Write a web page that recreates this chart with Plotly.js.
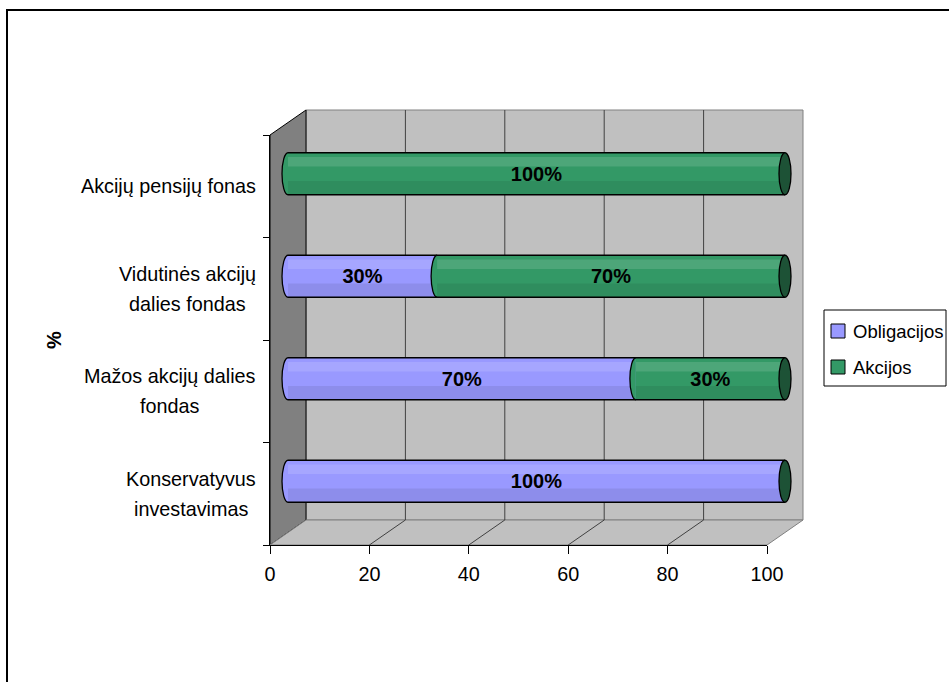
<!DOCTYPE html>
<html>
<head>
<meta charset="utf-8">
<script src="https://cdn.plot.ly/plotly-3.0.1.min.js"></script>
<style>html,body{margin:0;padding:0;background:#fff;}</style>
</head>
<body>
<div id="chart" style="width:949px;height:682px;"></div>
<script>
// ---- data ----
const categories = [
  'Konservatyvus<br>investavimas',
  'Mažos akcijų dalies<br>fondas',
  'Vidutinės akcijų<br>dalies fondas',
  'Akcijų pensijų fonas'
];
const obligacijos = [100, 70, 30, 0];
const akcijos = [0, 30, 70, 100];
const seriesNames = ['Obligacijos', 'Akcijos'];
const xTicks = [0, 20, 40, 60, 80, 100];
const axisTitle = '%';

// ---- styling / geometry ----
const W = 949, H = 682;
const FONT = 'Arial, "Liberation Sans", sans-serif';
const LABEL_SIZE = 19.8;
const seriesColors = ['#9999ff', '#339966'];
const capColor = '#1d5236';
const FRONT = {left: 270, right: 767, top: 135, bottom: 545};
const DEPTH = {dx: 36, dy: -25};          // front plane -> back wall offset (px)
const BAR_W = 0.41;                        // bar thickness in category units
const CAP_RX_PX = 6;                       // half width of the cylinder end ellipse
const PAD_PX = 12;                         // room around the bar plot so end caps are not clipped
const LABEL_RIGHT = 256;
const LINE_GAP = 30;

const px = x => x / W;
const py = y => 1 - y / H;
const xMax = xTicks[xTicks.length - 1];
const plotW = FRONT.right - FRONT.left;
const unitsPerPx = xMax / plotW;
const xPx = (v, dx) => FRONT.left + dx + v / xMax * plotW;
const nCat = categories.length;
const catIndex = categories.map((_, i) => i);
const series = [obligacijos, akcijos];

function polyPath(pts) {
  return 'M' + pts.map(p => px(p[0]) + ',' + py(p[1])).join(' L') + ' Z';
}

// ---- traces: stacked cylinders drawn at mid depth ----
const traces = series.map((vals, k) => ({
  type: 'bar',
  orientation: 'h',
  name: seriesNames[k],
  x: vals,
  y: catIndex,
  customdata: categories,
  xaxis: 'x2',
  yaxis: 'y2',
  width: BAR_W,
  marker: {color: seriesColors[k], line: {width: 0}},
  text: vals.map(v => v > 0 ? v + '%' : ''),
  textposition: 'inside',
  insidetextanchor: 'middle',
  textangle: 0,
  constraintext: 'none',
  insidetextfont: {family: FONT, size: 20, color: '#000', weight: 'bold'},
  hoverinfo: 'skip',
  cliponaxis: false,
  showlegend: false
}));

// ---- shapes ----
const shapes = [];
const backL = FRONT.left + DEPTH.dx, backR = FRONT.right + DEPTH.dx;
const backT = FRONT.top + DEPTH.dy, backB = FRONT.bottom + DEPTH.dy;

// back wall
shapes.push({type: 'path', xref: 'paper', yref: 'paper', layer: 'below',
  path: polyPath([[backL, backT], [backR, backT], [backR, backB], [backL, backB]]),
  fillcolor: '#c0c0c0', line: {color: '#808080', width: 1}});
// side wall
shapes.push({type: 'path', xref: 'paper', yref: 'paper', layer: 'below',
  path: polyPath([[FRONT.left, FRONT.top], [backL, backT], [backL, backB], [FRONT.left, FRONT.bottom]]),
  fillcolor: '#808080', line: {color: '#000', width: 1}});
// floor
shapes.push({type: 'path', xref: 'paper', yref: 'paper', layer: 'below',
  path: polyPath([[FRONT.left, FRONT.bottom], [FRONT.right, FRONT.bottom], [backR, backB], [backL, backB]]),
  fillcolor: '#c0c0c0', line: {color: '#808080', width: 1}});
// gridlines on the back wall and across the floor
xTicks.slice(1, -1).forEach(v => {
  const bx = xPx(v, DEPTH.dx), fx = xPx(v, 0);
  shapes.push({type: 'line', xref: 'paper', yref: 'paper', layer: 'below',
    x0: px(bx), x1: px(bx), y0: py(backT), y1: py(backB),
    line: {color: '#404040', width: 1}});
  shapes.push({type: 'line', xref: 'paper', yref: 'paper', layer: 'below',
    x0: px(fx), x1: px(bx), y0: py(FRONT.bottom), y1: py(backB),
    line: {color: '#404040', width: 1}});
});

// cylinder decorations (bar axes)
const rx = CAP_RX_PX * unitsPerPx;
const h = BAR_W / 2;
const K = 0.5523;
function leftHalf(s, yc) {
  return `M${s},${yc + h} C${s - K * rx},${yc + h} ${s - rx},${yc + K * h} ${s - rx},${yc}` +
         ` C${s - rx},${yc - K * h} ${s - K * rx},${yc - h} ${s},${yc - h}`;
}
const deco = {xref: 'x2', yref: 'y2', layer: 'above'};
catIndex.forEach(i => {
  const total = series.reduce((a, s) => a + s[i], 0);
  // shading bands across the cylinder
  shapes.push(Object.assign({type: 'rect', x0: 0, x1: total, y0: i + h * 0.35, y1: i + h * 0.8,
    fillcolor: 'rgba(255,255,255,0.13)', line: {width: 0}}, deco));
  shapes.push(Object.assign({type: 'rect', x0: 0, x1: total, y0: i - h, y1: i - h * 0.35,
    fillcolor: 'rgba(0,0,0,0.08)', line: {width: 0}}, deco));
  // visible front face edge of each segment
  let start = 0;
  series.forEach((s, k) => {
    if (s[i] > 0) {
      shapes.push(Object.assign({type: 'path', path: leftHalf(start, i),
        fillcolor: seriesColors[k], line: {color: '#000', width: 1.3}}, deco));
    }
    start += s[i];
  });
  // top and bottom outline
  [i + h, i - h].forEach(yy => shapes.push(Object.assign({type: 'line', x0: 0, x1: total, y0: yy, y1: yy,
    line: {color: '#000', width: 1.3}}, deco)));
  // end cap
  shapes.push(Object.assign({type: 'circle', x0: total - rx, x1: total + rx, y0: i - h, y1: i + h,
    fillcolor: capColor, line: {color: '#000', width: 1.3}}, deco));
});

// legend box and swatches
const LEG = {left: 824, right: 946, top: 310, bottom: 386, sw: 831, swSize: 14, text: 851, y0: 331, step: 36};
shapes.push({type: 'rect', xref: 'paper', yref: 'paper', layer: 'above',
  x0: px(LEG.left), x1: px(LEG.right), y0: py(LEG.top), y1: py(LEG.bottom),
  fillcolor: '#fff', line: {color: '#000', width: 1}});
seriesNames.forEach((n, k) => {
  const cy = LEG.y0 + k * LEG.step;
  shapes.push({type: 'rect', xref: 'paper', yref: 'paper', layer: 'above',
    x0: px(LEG.sw), x1: px(LEG.sw + LEG.swSize),
    y0: py(cy - LEG.swSize / 2), y1: py(cy + LEG.swSize / 2),
    fillcolor: seriesColors[k], line: {color: '#000', width: 1}});
});

// outer chart-area border
shapes.push({type: 'rect', xref: 'paper', yref: 'paper', layer: 'above',
  x0: px(7), x1: px(W + 20), y0: py(10), y1: py(H + 20),
  fillcolor: 'rgba(0,0,0,0)', line: {color: '#000', width: 2}});

// ---- annotations ----
const annotations = [];
const ctx = document.createElement('canvas').getContext('2d');
ctx.font = `${LABEL_SIZE}px Arial`;
categories.forEach((c, i) => {
  const lines = c.split('<br>');
  const blockW = Math.max(...lines.map(l => ctx.measureText(l).width));
  const cx = LABEL_RIGHT - blockW / 2;
  lines.forEach((l, j) => {
    annotations.push({xref: 'paper', x: px(cx), yref: 'y', y: i,
      xanchor: 'center', yanchor: 'middle', yshift: ((lines.length - 1) / 2 - j) * LINE_GAP,
      text: l, showarrow: false, font: {family: FONT, size: LABEL_SIZE, color: '#000'}});
  });
});
annotations.push({xref: 'paper', yref: 'paper', x: px(54), y: py(340), text: axisTitle,
  textangle: -90, showarrow: false, xanchor: 'center', yanchor: 'middle',
  font: {family: FONT, size: 20, color: '#000', weight: 'bold'}});
seriesNames.forEach((n, k) => {
  annotations.push({xref: 'paper', yref: 'paper', x: px(LEG.text), y: py(LEG.y0 + k * LEG.step),
    xanchor: 'left', yanchor: 'middle', text: n, showarrow: false,
    font: {family: FONT, size: 18.5, color: '#000'}});
});

const boundaries = Array.from({length: nCat + 1}, (_, i) => i - 0.5);
const midL = FRONT.left + DEPTH.dx / 2, midR = FRONT.right + DEPTH.dx / 2;

const layout = {
  width: W, height: H,
  margin: {l: 0, r: 0, t: 0, b: 0},
  paper_bgcolor: '#fff',
  plot_bgcolor: 'rgba(0,0,0,0)',
  barmode: 'stack',
  showlegend: false,
  font: {family: FONT, color: '#000'},
  xaxis: {domain: [px(FRONT.left), px(FRONT.right)], range: [0, xMax], tickvals: xTicks,
    ticks: 'outside', ticklen: 8, tickcolor: '#000', ticklabelstandoff: 3,
    showline: true, linecolor: '#000', linewidth: 1, showgrid: false, zeroline: false,
    tickfont: {family: FONT, size: LABEL_SIZE, color: '#000'}, anchor: 'y', fixedrange: true},
  yaxis: {domain: [py(FRONT.bottom), py(FRONT.top)], range: [-0.5, nCat - 0.5], tickvals: boundaries,
    ticks: 'outside', ticklen: 6, tickcolor: '#000', showticklabels: false,
    showline: true, linecolor: '#000', linewidth: 1, showgrid: false, zeroline: false,
    anchor: 'x', fixedrange: true},
  xaxis2: {domain: [px(midL - PAD_PX), px(midR + PAD_PX)],
    range: [-PAD_PX * unitsPerPx, xMax + PAD_PX * unitsPerPx],
    visible: false, anchor: 'y2', fixedrange: true},
  yaxis2: {domain: [py(FRONT.bottom + DEPTH.dy / 2), py(FRONT.top + DEPTH.dy / 2)],
    range: [-0.5, nCat - 0.5], visible: false, anchor: 'x2', fixedrange: true},
  shapes: shapes,
  annotations: annotations
};

Plotly.newPlot('chart', traces, layout, {displayModeBar: false, staticPlot: true});
</script>
</body>
</html>
